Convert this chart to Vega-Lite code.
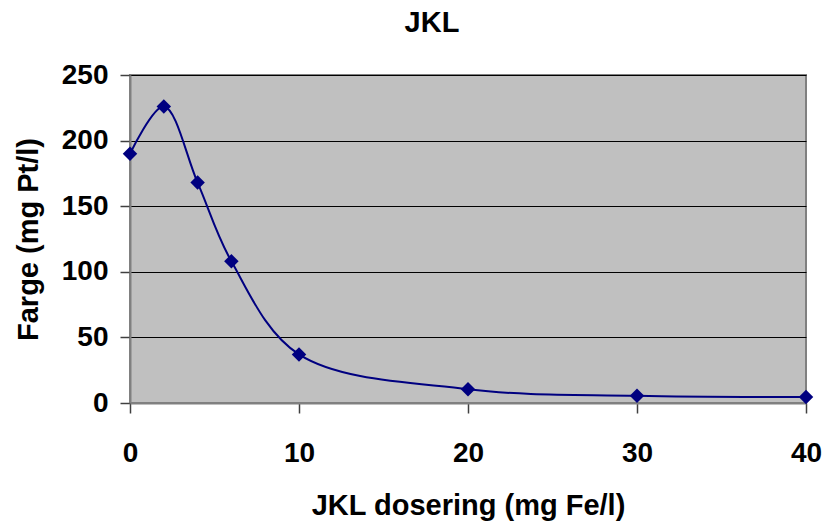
{
  "$schema": "https://vega.github.io/schema/vega-lite/v6.json",
  "autosize": {"type": "none"},
  "width": 676,
  "height": 328,
  "padding": {"left": 130, "top": 75, "right": 19, "bottom": 124},
  "background": "white",
  "title": {
    "text": "JKL",
    "font": "Liberation Sans",
    "fontSize": 29,
    "fontWeight": "bold",
    "color": "black",
    "anchor": "middle",
    "offset": 23,
    "dx": -36
  },
  "data": {
    "values": [
      {"dose": 0, "farge": 190},
      {"dose": 2, "farge": 226},
      {"dose": 4, "farge": 168},
      {"dose": 6, "farge": 108},
      {"dose": 10, "farge": 37},
      {"dose": 20, "farge": 10.5},
      {"dose": 30, "farge": 5.5},
      {"dose": 40, "farge": 4.5}
    ]
  },
  "encoding": {
    "x": {
      "field": "dose",
      "type": "quantitative",
      "title": "JKL dosering (mg Fe/l)",
      "scale": {"domain": [0, 40], "nice": false, "zero": true},
      "axis": {
        "values": [0, 10, 20, 30, 40],
        "grid": false,
        "tickSize": 10,
        "labelFlush": false,
        "labelPadding": 26,
        "titlePadding": 24
      }
    },
    "y": {
      "field": "farge",
      "type": "quantitative",
      "title": "Farge (mg Pt/l)",
      "scale": {"domain": [0, 250], "nice": false},
      "axis": {
        "values": [0, 50, 100, 150, 200, 250],
        "grid": true,
        "tickSize": 10,
        "labelFlush": false,
        "labelPadding": 12,
        "titlePadding": 18
      }
    }
  },
  "layer": [
    {
      "mark": {"type": "line", "interpolate": "catmull-rom", "color": "#000080", "strokeWidth": 2}
    },
    {
      "mark": {"type": "point", "shape": "diamond", "filled": true, "color": "#000080", "opacity": 1, "size": 210}
    }
  ],
  "config": {
    "view": {"fill": "#C0C0C0", "stroke": "#808080", "strokeWidth": 2},
    "axis": {
      "labelFont": "Liberation Sans",
      "labelFontSize": 28,
      "labelFontWeight": "bold",
      "labelColor": "black",
      "titleFont": "Liberation Sans",
      "titleFontSize": 29,
      "titleFontWeight": "bold",
      "titleColor": "black",
      "domainColor": "#808080",
      "domainWidth": 2,
      "tickColor": "#404040",
      "tickWidth": 1.5,
      "gridColor": "black",
      "gridWidth": 1.2,
      "gridOpacity": 1
    }
  }
}
